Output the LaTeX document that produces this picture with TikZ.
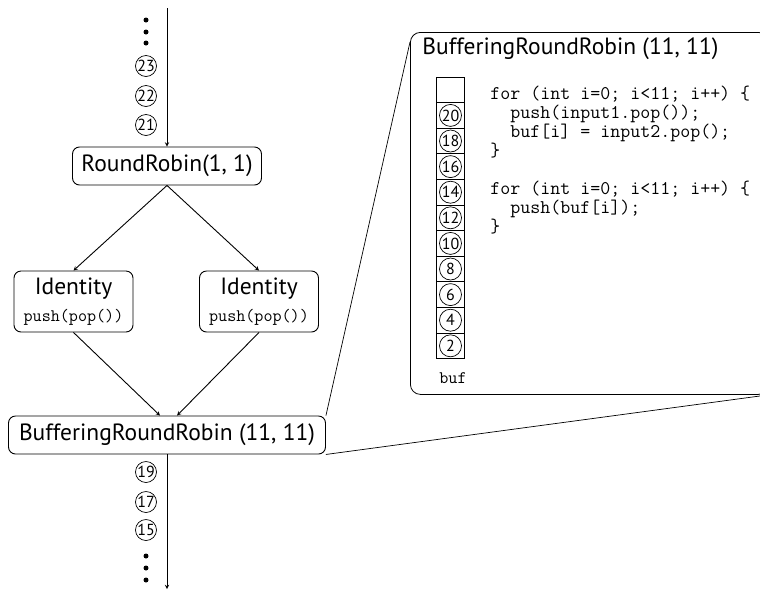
\documentclass[tikz,border=0pt]{standalone}
\usepackage{fontspec}
\setmainfont{PT Sans}
\usetikzlibrary{positioning}

\newcommand{\codefont}{\ttfamily\fontsize{17.6}{19}\selectfont}

\begin{document}
\begin{tikzpicture}[%
>=stealth,
x=1pt,
y=-1pt,
line width=0.9pt,
filter/.style={draw, rounded corners=7pt, inner sep=0pt, font=\fontsize{23.5}{24}\selectfont},
tok/.style={draw, circle, line width=0.7pt, inner sep=0pt, minimum size=21pt, font=\fontsize{16}{16}\selectfont},
cell/.style={draw, line width=0.7pt, inner sep=0pt, minimum width=28pt, minimum height=25.6pt},
dot/.style={fill, circle, inner sep=0pt, minimum size=5pt}
]
\useasboundingbox (0,0) rectangle (760,590);

\coordinate (top) at (167,8);
\coordinate (end) at (167,589);

\node[filter, minimum width=189pt, minimum height=38pt] (rr) at (167,166) {RoundRobin(1, 1)};
\node[filter, minimum width=119pt, minimum height=61pt, align=center] (id1) at (73.5,301.5) {Identity\\[3pt]{\codefont push(pop())}};
\node[filter, minimum width=119pt, minimum height=61pt, align=center] (id2) at (259,301.5) {Identity\\[3pt]{\codefont push(pop())}};
\node[filter, minimum width=317pt, minimum height=38pt] (brr) at (167,435) {BufferingRoundRobin (11, 11)};

\foreach \y in {20,32,43,556,568,580} \node[dot] at (146,\y) {};
\node[tok] (t23) at (146,66) {23};
\node[tok] (t22) at (146,96) {22};
\node[tok] (t21) at (146,125) {21};
\node[tok] (t19) at (146,472) {19};
\node[tok] (t17) at (146,502) {17};
\node[tok] (t15) at (146,530) {15};

\draw[->] (top) -- (rr);
\draw[->] (rr.south) -- (id1.north);
\draw[->] (rr.south) -- (id2.north);
\draw[->] (id1.south) -- ([xshift=-7pt]brr.north);
\draw[->] (id2.south) -- ([xshift=10pt]brr.north);
\draw[->] (brr) -- (end);

\node[draw, rounded corners=10pt, line width=0.8pt, minimum width=358pt, minimum height=362pt, anchor=north west] (zoom) at (410,32) {};
\draw[line width=0.7pt] (brr.north east) -- ([yshift=-10pt]zoom.north west);
\draw[line width=0.7pt] (brr.south east) -- (zoom.south east);

\node[anchor=west, inner sep=0pt, font=\fontsize{23.5}{24}\selectfont] (title) at (422,49) {BufferingRoundRobin (11, 11)};

\node[cell] (c0) at (450.5,89.8) {};
\foreach \n [count=\i] in {20,18,...,2} {
  \node[cell] (c\n) at (450.5,{89.8+25.6*\i}) {};
  \node[tok, minimum size=22pt] (b\n) at (c\n) {\n};
}
\node[font=\codefont] (buf) at (453,378) {buf};

\node[anchor=north west, align=left, inner sep=0pt, font=\ttfamily\fontsize{19.4}{19}\selectfont] (code) at (490,86)
{for (int i=0; i<11; i++) \{\\
~~push(input1.pop());\\
~~buf[i] = input2.pop();\\
\}\\[19pt]
for (int i=0; i<11; i++) \{\\
~~push(buf[i]);\\
\}};

\end{tikzpicture}
\end{document}
